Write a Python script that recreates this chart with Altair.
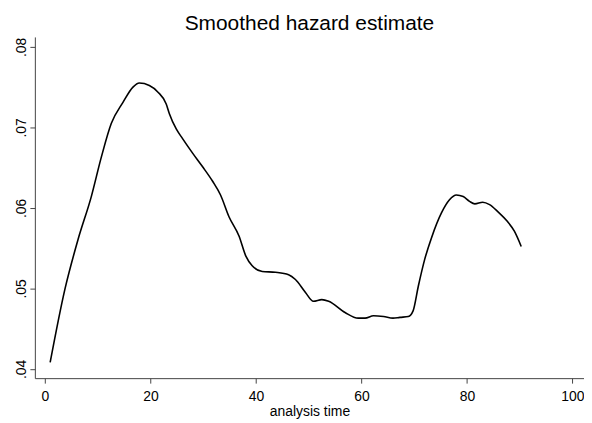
import altair as alt
import pandas as pd

time = [1.0, 3.8, 6.3, 8.8, 10.7, 12.6, 14.8, 16.7, 17.9, 19.8, 21.4, 23.0, 23.6,
        24.9, 26.1, 28.0, 29.9, 31.8, 33.3, 34.9, 36.8, 38.1, 39.3, 41.2, 43.7,
        46.2, 47.5, 49.4, 50.9, 52.5, 53.8, 56.9, 59.4, 60.7, 62.3, 64.2, 66.0,
        67.3, 68.9, 69.8, 70.8, 72.0, 73.3, 75.2, 76.7, 78.0, 79.3, 80.5, 81.5,
        83.0, 84.3, 85.9, 87.7, 89.0, 90.3]
hazard = [0.0408, 0.0499, 0.0561, 0.0614, 0.0663, 0.0705, 0.0731, 0.0750, 0.0755,
          0.0752, 0.0744, 0.0729, 0.0717, 0.0698, 0.0686, 0.0668, 0.0651, 0.0633,
          0.0616, 0.0589, 0.0565, 0.0540, 0.0528, 0.0521, 0.0520, 0.0517, 0.0511,
          0.0495, 0.0484, 0.0486, 0.0484, 0.0470, 0.0463, 0.0463, 0.0466, 0.0465,
          0.0463, 0.0464, 0.0465, 0.0472, 0.0503, 0.0536, 0.0563, 0.0594, 0.0610,
          0.0616, 0.0614, 0.0608, 0.0605, 0.0607, 0.0604, 0.0595, 0.0583, 0.0571,
          0.0552]

x_ticks = [0, 20, 40, 60, 80, 100]
y_ticks = [0.04, 0.05, 0.06, 0.07, 0.08]

df = pd.DataFrame({"time": time, "hazard": hazard})

FONT = "Liberation Sans"
AXIS_COLOR = "#444444"

chart = alt.Chart(df).mark_line(color="black", strokeWidth=1.6, interpolate="monotone").encode(
    x=alt.X("time:Q",
            scale=alt.Scale(domain=[-1.9, 102.2], nice=False, zero=False),
            axis=alt.Axis(values=x_ticks, title="analysis time", grid=False,
                          tickSize=5, labelPadding=6, labelFontSize=14, labelFont=FONT,
                          labelColor="black", titleFont=FONT, titleFontSize=14,
                          titleFontWeight="normal", titleColor="black", titlePadding=2,
                          domainColor=AXIS_COLOR, tickColor=AXIS_COLOR)),
    y=alt.Y("hazard:Q",
            scale=alt.Scale(domain=[0.03885, 0.08123], nice=False, zero=False),
            axis=alt.Axis(values=y_ticks, title=None, grid=False,
                          labelExpr="replace(format(datum.value, '.2f'), '0.', '.')",
                          tickSize=5, labelAngle=270, labelAlign="center",
                          labelBaseline="bottom", labelPadding=1, labelFontSize=14,
                          labelFont=FONT, labelColor="black",
                          domainColor=AXIS_COLOR, tickColor=AXIS_COLOR)),
).properties(
    width=552,
    height=343,
    title=alt.TitleParams("Smoothed hazard estimate", font=FONT, fontSize=21,
                          fontWeight="normal", color="black", anchor="middle",
                          baseline="alphabetic", offset=-14),
    autosize=alt.AutoSizeParams(type="none"),
    padding={"left": 27, "top": 28, "right": 0, "bottom": 44},
).configure_view(stroke=None)

chart.save("out.html", embed_options={"renderer": "svg", "actions": False})
